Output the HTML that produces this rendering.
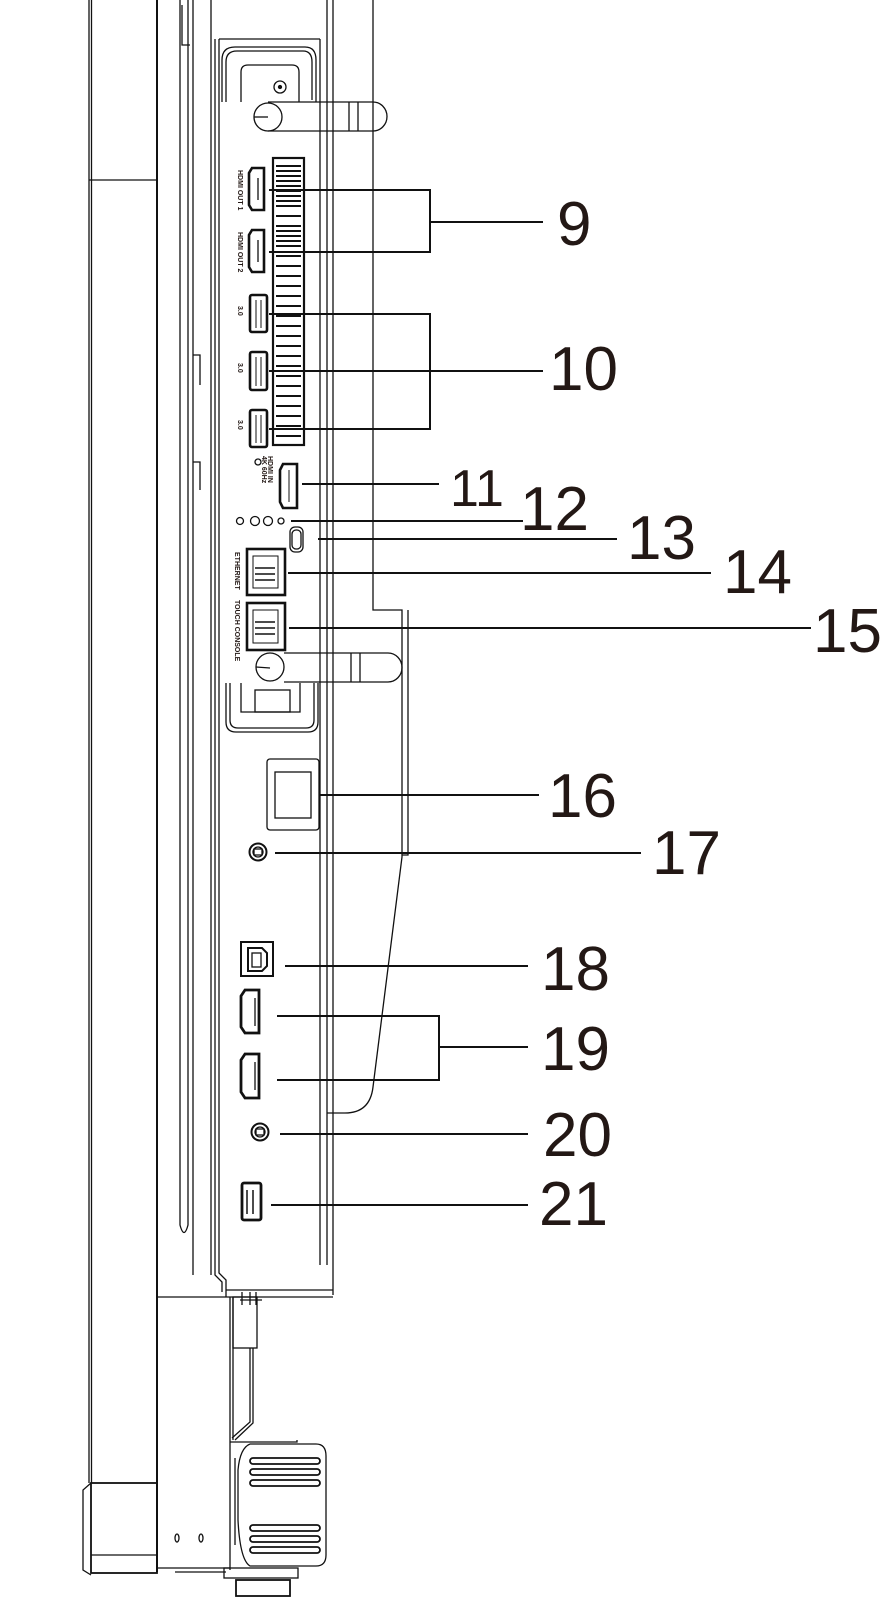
<!DOCTYPE html>
<html><head><meta charset="utf-8"><style>
html,body{margin:0;padding:0;background:#fff;}
svg{display:block;}
text{font-family:"Liberation Sans",sans-serif;fill:#231815;}
</style></head><body>
<svg width="894" height="1615" viewBox="0 0 894 1615" xmlns="http://www.w3.org/2000/svg">
<g fill="none" stroke="#111" stroke-width="1.3">
<line x1="89" y1="0" x2="89" y2="1483"/><line x1="91.5" y1="0" x2="91.5" y2="1483"/>
<line x1="157" y1="0" x2="157" y2="1572" stroke-width="2"/>
<line x1="89" y1="180" x2="157" y2="180"/>
<rect x="91" y="1483" width="66" height="90" stroke-width="1.8"/>
<path d="M91 1483 L83 1490 L83 1570 L91 1575"/>
<line x1="91" y1="1555" x2="157" y2="1555"/>
<path d="M180 0 V1225 Q184 1240 188 1225 V0"/>
<line x1="193" y1="0" x2="193" y2="1275"/>
<path d="M182 5 V45 H190" />
<path d="M193 355 H200 V385"/><path d="M193 462 H200 V490"/>
<line x1="211" y1="0" x2="211" y2="1275"/>
<path d="M215 39 V1275 L222 1282 V1292"/>
<path d="M219 39 V1273 L226 1280 V1297"/>
<path d="M219 39 H320"/>
<line x1="320" y1="39" x2="320" y2="1265"/>
<line x1="327" y1="0" x2="327" y2="1265"/>
<line x1="333" y1="0" x2="333" y2="1295"/>
<path d="M226 1290 H333"/><path d="M226 1297 H333"/>
<path d="M157 1297 H226"/>
<path d="M373 0 V610 H402 V857 L373 1087 Q370 1113 345 1113 H327"/>
<path d="M408 610 V855 H402"/>
<path d="M222 102 V60 Q222 47 235 47 H305 Q316 47 316 60 V102"/>
<path d="M226 102 V62 Q226 51 237 51 H303 Q312 51 312 62 V100"/>
<path d="M241 102 V72 Q241 65 248 65 H292 Q299 65 299 72 V102"/>
<circle cx="280" cy="87" r="6"/><circle cx="280" cy="87" r="1.5" fill="#111"/>
<circle cx="268" cy="117" r="14"/><line x1="254" y1="117" x2="268" y2="117"/>
<path d="M268 102 H373 A14 14.5 0 0 1 373 131 H268"/>
<line x1="349" y1="102" x2="349" y2="131"/><line x1="358" y1="102" x2="358" y2="131"/>
<rect x="273" y="158" width="31" height="287" stroke-width="2.2"/>
<g stroke-width="2">
<path d="M276 166H301M276 176H301M276 186H301M276 196H301M276 206H301M276 216H301M276 226H301M276 236H301M276 246H301M276 256H301M276 266H301M276 276H301M276 286H301M276 296H301M276 306H301M276 316H301M276 326H301M276 336H301M276 346H301M276 356H301M276 366H301M276 376H301M276 386H301M276 396H301M276 406H301M276 416H301M276 426H301M276 436H301"/>
<path d="M276 181H301M276 191H301M276 201H301M276 241H301M276 171H301M276 231H301"/>
</g>
<g stroke-width="2.6">
<path d="M252 168 H264 V210 H252 L249 205 V173 Z"/>
<path d="M252 230 H264 V272 H252 L249 267 V235 Z"/>
<rect x="250" y="295" width="17" height="37" rx="2"/>
<rect x="250" y="352" width="17" height="38" rx="2"/>
<rect x="250" y="410" width="17" height="37" rx="2"/>
<path d="M283 464 H297 V508 H283 L280 502 V470 Z"/>
<rect x="247" y="549" width="38" height="46"/>
<rect x="247" y="603" width="38" height="47"/>
</g>
<path d="M258 178V200M258 240V262"/>
<path d="M256 300V328M261 300V328M256 357V386M261 357V386M256 415V443M261 415V443M289 470V502" stroke-width="1"/>
<rect x="253" y="556" width="25" height="32" stroke-width="1"/>
<rect x="253" y="610" width="25" height="33" stroke-width="1"/>
<path d="M255 568H275M255 574H275M255 580H275M255 622H275M255 628H275M255 634H275" stroke-width="1.5"/>
<circle cx="240" cy="521" r="3.5"/><circle cx="255" cy="521" r="4.5"/><circle cx="268" cy="521" r="4.5"/><circle cx="281" cy="521" r="3"/>
<circle cx="258" cy="462" r="3"/>
<rect x="290" y="527" width="13" height="25" rx="5"/><rect x="292" y="530" width="9" height="19" rx="4"/>
<circle cx="270" cy="667" r="14"/><line x1="256" y1="667" x2="270" y2="668"/>
<path d="M284 653 H388 A14 14.5 0 0 1 388 682 H284"/>
<line x1="351" y1="653" x2="351" y2="682"/><line x1="360" y1="653" x2="360" y2="682"/>
<path d="M226 683 V722 Q226 732 236 732 H308 Q318 732 318 722 V683"/>
<path d="M230 683 V720 Q230 728 238 728 H306 Q314 728 314 720 V683"/>
<path d="M241 683 V712 H300 V683"/>
<rect x="255" y="690" width="35" height="22"/>
<rect x="267" y="759" width="52" height="71" rx="3"/>
<rect x="275" y="772" width="36" height="46"/>
<circle cx="258" cy="852" r="8.5" stroke-width="2"/><circle cx="258" cy="852" r="5"/><rect x="254" y="849" width="8" height="6"/>
<rect x="241" y="942" width="32" height="34" stroke-width="2"/>
<path d="M248 948 H262 L267 953 V966 L262 971 H248 Z" stroke-width="2"/>
<rect x="252" y="953" width="9" height="14"/>
<path d="M245 990 H259 V1033 H245 L241 1027 V996 Z" stroke-width="2.8"/>
<path d="M245 1054 H259 V1098 H245 L241 1092 V1060 Z" stroke-width="2.8"/>
<path d="M255 998V1026M255 1062V1090"/>
<circle cx="260" cy="1132" r="8.5" stroke-width="2"/><circle cx="260" cy="1132" r="5"/><rect x="256" y="1129" width="8" height="6"/>
<rect x="242" y="1183" width="19" height="37" rx="2" stroke-width="2.8"/>
<path d="M247 1190V1214M253 1190V1214" stroke-width="1.5"/>
<path d="M230 1297 V1570"/><path d="M233 1297 V1440"/>
<rect x="233" y="1297" width="24" height="51"/>
<path d="M240 1300 H262 M242 1292 V1305 M250 1292 V1305 M256 1292 V1305"/>
<path d="M253 1348 V1423 L235 1440"/><path d="M250 1348 V1422 L232 1438"/>
<path d="M230 1442 H297 L297 1440"/>
<path d="M250 1444 H316 Q326 1444 326 1456 V1555 Q326 1566 316 1566 H250 Q240 1560 238 1520 V1470 Q240 1448 250 1444"/>
<path d="M235 1458 V1545"/>
<g stroke-width="1.8">
<rect x="250" y="1458" width="70" height="6" rx="3"/><rect x="250" y="1469" width="70" height="6" rx="3"/><rect x="250" y="1480" width="70" height="6" rx="3"/>
<rect x="250" y="1525" width="70" height="6" rx="3"/><rect x="250" y="1536" width="70" height="6" rx="3"/><rect x="250" y="1547" width="70" height="6" rx="3"/>
</g>
<path d="M157 1568 H230 M175 1572 H226"/>
<rect x="224" y="1568" width="74" height="10"/>
<rect x="236" y="1580" width="54" height="16" stroke-width="1.8"/>
<ellipse cx="177" cy="1538" rx="2" ry="4"/><ellipse cx="201" cy="1538" rx="2" ry="4"/>
</g>
<g fill="none" stroke="#111" stroke-width="2">
<path d="M269 190 H430 V252 H269"/><line x1="430" y1="222" x2="543" y2="222"/>
<path d="M269 314 H430 V429 H269"/><line x1="269" y1="371" x2="543" y2="371"/>
<line x1="302" y1="484" x2="439" y2="484"/>
<line x1="291" y1="521" x2="523" y2="521"/>
<line x1="318" y1="539" x2="617" y2="539"/>
<line x1="288" y1="573" x2="711" y2="573"/>
<line x1="289" y1="628" x2="811" y2="628"/>
<line x1="320" y1="795" x2="539" y2="795"/>
<line x1="275" y1="853" x2="641" y2="853"/>
<line x1="285" y1="966" x2="528" y2="966"/>
<path d="M277 1016 H439 V1080 H277"/><line x1="439" y1="1047" x2="528" y2="1047"/>
<line x1="280" y1="1134" x2="528" y2="1134"/>
<line x1="271" y1="1205" x2="528" y2="1205"/>
</g>
<g font-size="62">
<text x="557" y="245">9</text>
<text x="549" y="390">10</text>
<text x="450" y="506" font-size="52">11</text>
<text x="520" y="530">12</text>
<text x="627" y="559">13</text>
<text x="723" y="593">14</text>
<text x="813" y="652">15</text>
<text x="548" y="817">16</text>
<text x="652" y="874">17</text>
<text x="541" y="990">18</text>
<text x="541" y="1070">19</text>
<text x="543" y="1156">20</text>
<text x="539" y="1225">21</text>
</g>
<g font-size="7" font-weight="bold" fill="#111">
<text transform="translate(238,170) rotate(90)">HDMI OUT 1</text>
<text transform="translate(238,232) rotate(90)">HDMI OUT 2</text>
<text transform="translate(238,306) rotate(90)">3.0</text>
<text transform="translate(238,363) rotate(90)">3.0</text>
<text transform="translate(238,420) rotate(90)">3.0</text>
<text transform="translate(268,456) rotate(90)">HDMI IN</text>
<text transform="translate(262,456) rotate(90)">4K 60Hz</text>
<text transform="translate(235,552) rotate(90)">ETHERNET</text>
<text transform="translate(235,600) rotate(90)">TOUCH CONSOLE</text>
</g>
</svg>
</body></html>
